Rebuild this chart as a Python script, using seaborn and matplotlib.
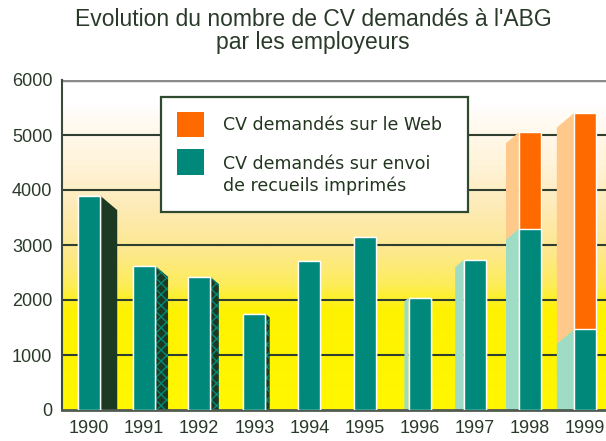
import numpy as np
import pandas as pd
import matplotlib
matplotlib.use("Agg")
import matplotlib.pyplot as plt
import seaborn as sns
from matplotlib.colors import LinearSegmentedColormap
from matplotlib.patches import Rectangle, Polygon

# ---- data ----
annees = ['1990', '1991', '1992', '1993', '1994', '1995', '1996', '1997', '1998', '1999']
cv_imprimes = [3900, 2620, 2420, 1750, 2710, 3150, 2040, 2730, 3300, 1470]
cv_web = [0, 0, 0, 0, 0, 0, 0, 0, 1750, 3930]
yticks = [0, 1000, 2000, 3000, 4000, 5000, 6000]
titre = "Evolution du nombre de CV demandés à l'ABG\npar les employeurs"
legende_web = "CV demandés sur le Web"
legende_imp = "CV demandés sur envoi\nde recueils imprimés"

sns.set_theme(style="white")
plt.rcParams['font.family'] = ['Liberation Sans', 'DejaVu Sans']
plt.rcParams['hatch.linewidth'] = 1.0

W, H = 606, 441
fig = plt.figure(figsize=(W / 100, H / 100), dpi=100)
fig.patch.set_facecolor('white')
ax = fig.add_axes([62 / W, 1 - 410 / H, (W - 62) / W, 330 / H])

TEAL = '#00897a'
ORANGE = '#ff6a00'
MINT = '#9fdcc6'
LIGHT_OR = '#ffc98c'
DARK = '#1c3a22'
TXT = '#2a3a2a'

df = pd.DataFrame({'annee': annees, 'imprimes': cv_imprimes, 'web': cv_web})
df['total'] = df['imprimes'] + df['web']

XMIN, XMAX = -0.49, 9.38
PXX = 1 / 55.1          # data units per pixel (x)
PXY = 1000 / 55.0       # data units per pixel (y)

# background gradient
cmap = LinearSegmentedColormap.from_list('fond', [
    (0.00, '#fff700'), (0.30, '#fff200'), (0.38, '#fded5a'),
    (0.48, '#fde88e'), (0.62, '#fdebb8'), (0.74, '#fff3d8'),
    (0.84, '#fff8ea'), (0.93, '#ffffff'), (1.00, '#ffffff')])
grad = np.linspace(0, 1, 256).reshape(-1, 1)
ax.imshow(grad, extent=(XMIN, XMAX, 0, 6000), origin='lower', aspect='auto',
          cmap=cmap, zorder=0)

for v in yticks[1:-1]:
    ax.axhline(v, color='#2f3f2f', lw=1.5, zorder=1)
ax.axhline(6000, color='#8a8a8a', lw=2.5, zorder=1)

# front bars
sns.barplot(data=df, x='annee', y='total', color=ORANGE, width=0.4,
            saturation=1, errorbar=None, ax=ax, zorder=3)
sns.barplot(data=df, x='annee', y='imprimes', color=TEAL, width=0.4,
            saturation=1, errorbar=None, ax=ax, zorder=3)

# perspective side faces
for i, (imp, web) in enumerate(zip(cv_imprimes, cv_web)):
    d = abs(i - 4.5) - 0.5
    wpx = 4.3 * d
    if wpx <= 0:
        continue
    side = 1 if i < 4.5 else -1
    x0 = i + side * 0.2
    x1 = x0 + side * wpx * PXX
    drop = 0.85 * wpx * PXY
    tot = imp + web
    if side == 1:
        if i == 0:
            ax.add_patch(Polygon([(x0, 0), (x0, tot), (x1, tot - drop), (x1, 0)],
                                 closed=True, facecolor=DARK, lw=0, zorder=2))
        else:
            ax.add_patch(Polygon([(x0, 0), (x0, tot), (x1, tot - drop), (x1, 0)],
                                 closed=True, facecolor=DARK, edgecolor=TEAL,
                                 hatch='xxx', lw=0, zorder=2))
    else:
        ax.add_patch(Polygon([(x0, 0), (x0, imp), (x1, imp - drop), (x1, 0)],
                             closed=True, facecolor=MINT, lw=0, zorder=2))
        if web > 0:
            ax.add_patch(Polygon([(x0, imp), (x0, tot), (x1, tot - drop), (x1, imp - drop)],
                                 closed=True, facecolor=LIGHT_OR, lw=0, zorder=2))

ax.set_xlim(XMIN, XMAX)
ax.set_ylim(0, 6000)
ax.set_yticks(yticks)
ax.set_xlabel('')
ax.set_ylabel('')
ax.tick_params(axis='both', length=0, labelsize=13, colors=TXT, pad=7)
for s in ['right', 'top']:
    ax.spines[s].set_visible(False)
ax.spines['left'].set_color('#3c4a3c')
ax.spines['left'].set_linewidth(1.5)
ax.spines['bottom'].set_color('#505a50')
ax.spines['bottom'].set_linewidth(2)

# title
fig.text(313 / W, 1 - 8 / H, titre, ha='center', va='top', fontsize=16.5,
         color=TXT, linespacing=0.98)

# legend box
def fx(px):
    return px / W

def fy(py):
    return 1 - py / H

fig.add_artist(Rectangle((fx(161), fy(212)), fx(468) - fx(161), fy(97) - fy(212),
                         transform=fig.transFigure, facecolor='white',
                         edgecolor='#2f4a2f', lw=1.6, zorder=10))
fig.add_artist(Rectangle((fx(177), fy(137)), fx(204) - fx(177), fy(112) - fy(137),
                         transform=fig.transFigure, facecolor=ORANGE, lw=0, zorder=11))
fig.add_artist(Rectangle((fx(177), fy(175)), fx(204) - fx(177), fy(149) - fy(175),
                         transform=fig.transFigure, facecolor=TEAL, lw=0, zorder=11))
fig.text(fx(223), fy(125), legende_web, ha='left', va='center', fontsize=12.5,
         family=['DejaVu Sans'], color='#22351f', zorder=12)
fig.text(fx(223), fy(175), legende_imp, ha='left', va='center', fontsize=12.5,
         family=['DejaVu Sans'], color='#22351f', zorder=12, linespacing=1.3)

fig.savefig('out.png', dpi=100, facecolor='white')
